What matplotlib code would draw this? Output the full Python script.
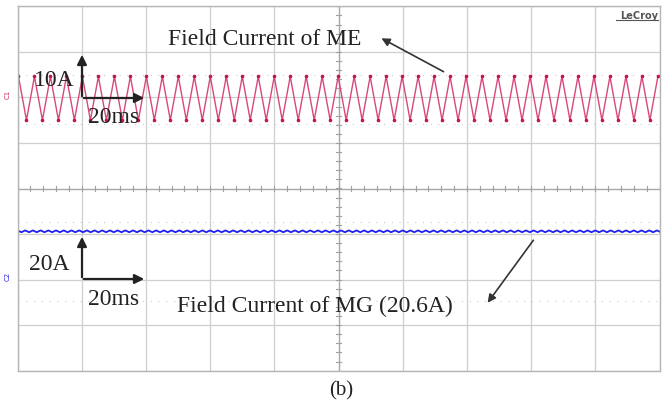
import matplotlib.pyplot as plt
import numpy as np

# Escales de l'oscil·loscopi
ms_per_div = 20.0
ch1_A_per_div = 10.0
ch2_A_per_div = 20.0
ch1_zero_div = 1.98      # posició del marcador 1 (divisions des del centre)
ch2_zero_div = -1.97     # posició del marcador 2

# Corrent de camp del ME (vèrtexs del triangle, llegits de la imatge)
me_first_peak_ms = 0.3
me_period_ms = 4.98
me_peaks_A = [4.8, 4.8, 4.8, 4.8, 4.8, 4.8, 4.8, 4.8, 4.8, 4.8,
              4.8, 4.8, 4.8, 4.8, 4.8, 4.8, 4.8, 4.8, 4.8, 4.8,
              4.8, 4.8, 4.8, 4.8, 4.8, 4.8, 4.8, 4.8, 4.8, 4.8,
              4.8, 4.8, 4.8, 4.8, 4.8, 4.8, 4.8, 4.8, 4.8, 4.8, 4.8]
me_troughs_A = [-4.8, -4.8, -4.8, -4.8, -4.8, -4.8, -4.8, -4.8, -4.8, -4.8,
                -4.8, -4.8, -4.8, -4.8, -4.8, -4.8, -4.8, -4.8, -4.8, -4.8,
                -4.8, -4.8, -4.8, -4.8, -4.8, -4.8, -4.8, -4.8, -4.8, -4.8,
                -4.8, -4.8, -4.8, -4.8, -4.8, -4.8, -4.8, -4.8, -4.8, -4.8]

# Corrent de camp del MG (20.6 A amb un arrissat petit)
mg_ripple_period_ms = 2.4
mg_cycle_A = [21.0, 20.6, 20.2, 20.6]

# Construïm les sèries
me_t = [0.0]
me_v = [me_peaks_A[0] - 0.2]
for k in range(len(me_peaks_A)):
    me_t.append(me_first_peak_ms + k * me_period_ms)
    me_v.append(me_peaks_A[k])
    if k < len(me_troughs_A):
        me_t.append(me_first_peak_ms + (k + 0.5) * me_period_ms)
        me_v.append(me_troughs_A[k])
me_t = np.array(me_t)
me_v = np.array(me_v)

n_cyc = int(200 / mg_ripple_period_ms) + 2
mg_v = np.tile(mg_cycle_A, n_cyc)
mg_t = np.arange(len(mg_v)) * mg_ripple_period_ms / len(mg_cycle_A)

W, H = 670, 406
fig = plt.figure(figsize=(W / 100, H / 100), dpi=100)

# Pantalla de l'oscil·loscopi
x0, x1, y0, y1 = 17.5, 659.5, 7.3, 371.7
ax = fig.add_axes([x0 / W, 1 - y1 / H, (x1 - x0) / W, (y1 - y0) / H])
ax.set_xlim(0, 10 * ms_per_div)
ax.set_ylim(-4, 4)
ax.set_xticks(np.arange(0, 201, ms_per_div))
ax.set_yticks(np.arange(-4, 5, 1))
ax.grid(True, color='#cfcfcf', lw=0.9)
ax.tick_params(length=0, labelbottom=False, labelleft=False)
for s in ax.spines.values():
    s.set_color('#b5b5b5')
    s.set_linewidth(1.0)

# Eixos centrals amb marques menors
ax.axhline(0, color='#a8a8a8', lw=0.9)
ax.axvline(100, color='#a8a8a8', lw=0.9)
for xm in np.arange(0, 200.1, 4):
    ax.plot([xm, xm], [-0.05, 0.05], color='#a0a0a0', lw=0.8)
for ym in np.arange(-4, 4.01, 0.2):
    ax.plot([99.3, 100.7], [ym, ym], color='#a0a0a0', lw=0.8)

# Línies puntejades tènues
for yd in [2.49, 1.42, -0.735, -2.47]:
    ax.axhline(yd, color='#cccccc', lw=0.8, ls=(0, (1, 6)))

ax.plot(me_t, me_v / ch1_A_per_div + ch1_zero_div, color='#d8477e', lw=1.0)
ax.plot(me_t[1:], me_v[1:] / ch1_A_per_div + ch1_zero_div, ls='none',
        marker='o', ms=1.6, color='#c8105a')
ax.plot(mg_t, mg_v / ch2_A_per_div + ch2_zero_div, color='#2020f0', lw=1.3)

# Capa per a textos i fletxes (coordenades en píxels)
ov = fig.add_axes([0, 0, 1, 1], facecolor='none')
ov.set_xlim(0, W)
ov.set_ylim(H, 0)
ov.axis('off')

serif = 'Liberation Serif'
fs = 17
ov.text(168, 45, 'Field Current of ME', fontsize=fs, family=serif, color='#222222')
ov.annotate('', xy=(379, 38), xytext=(446, 74),
            arrowprops=dict(arrowstyle='-|>', color='#333333', lw=1.2, mutation_scale=12))
ov.text(177, 312, 'Field Current of MG (20.6A)', fontsize=fs, family=serif, color='#222222')
ov.annotate('', xy=(486, 306), xytext=(535, 239),
            arrowprops=dict(arrowstyle='-|>', color='#333333', lw=1.2, mutation_scale=12))

# Escales dibuixades
for yc, ytip, lab_a, xa, ya, yb in [(99, 53, '10A', 75, 86, 123), (280, 235, '20A', 69, 270, 305)]:
    ov.annotate('', xy=(82, ytip), xytext=(82, yc + 1),
                arrowprops=dict(arrowstyle='-|>', color='#222222', lw=1.6, mutation_scale=14))
    ov.annotate('', xy=(147, yc), xytext=(81, yc),
                arrowprops=dict(arrowstyle='-|>', color='#222222', lw=1.6, mutation_scale=14))
    ov.text(xa, ya, lab_a, fontsize=fs, family=serif, ha='right', color='#222222')
    ov.text(88, yb, '20ms', fontsize=fs, family=serif, color='#222222')

# Marcadors de canal
ov.text(8, 94, 'C1', fontsize=5, rotation=90, ha='center', va='center', color='#d02060')
ov.text(8, 276, 'C2', fontsize=5, rotation=90, ha='center', va='center', color='#2020e0')

# Logo
ov.text(658, 19, 'LeCroy', fontsize=7, weight='bold', ha='right', color='#555555')
ov.plot([616, 658], [21, 21], color='#555555', lw=0.8)

ov.text(341, 391, '(b)', fontsize=15, family=serif, ha='center', va='center', color='#222222')

fig.savefig('out.png', dpi=100)
